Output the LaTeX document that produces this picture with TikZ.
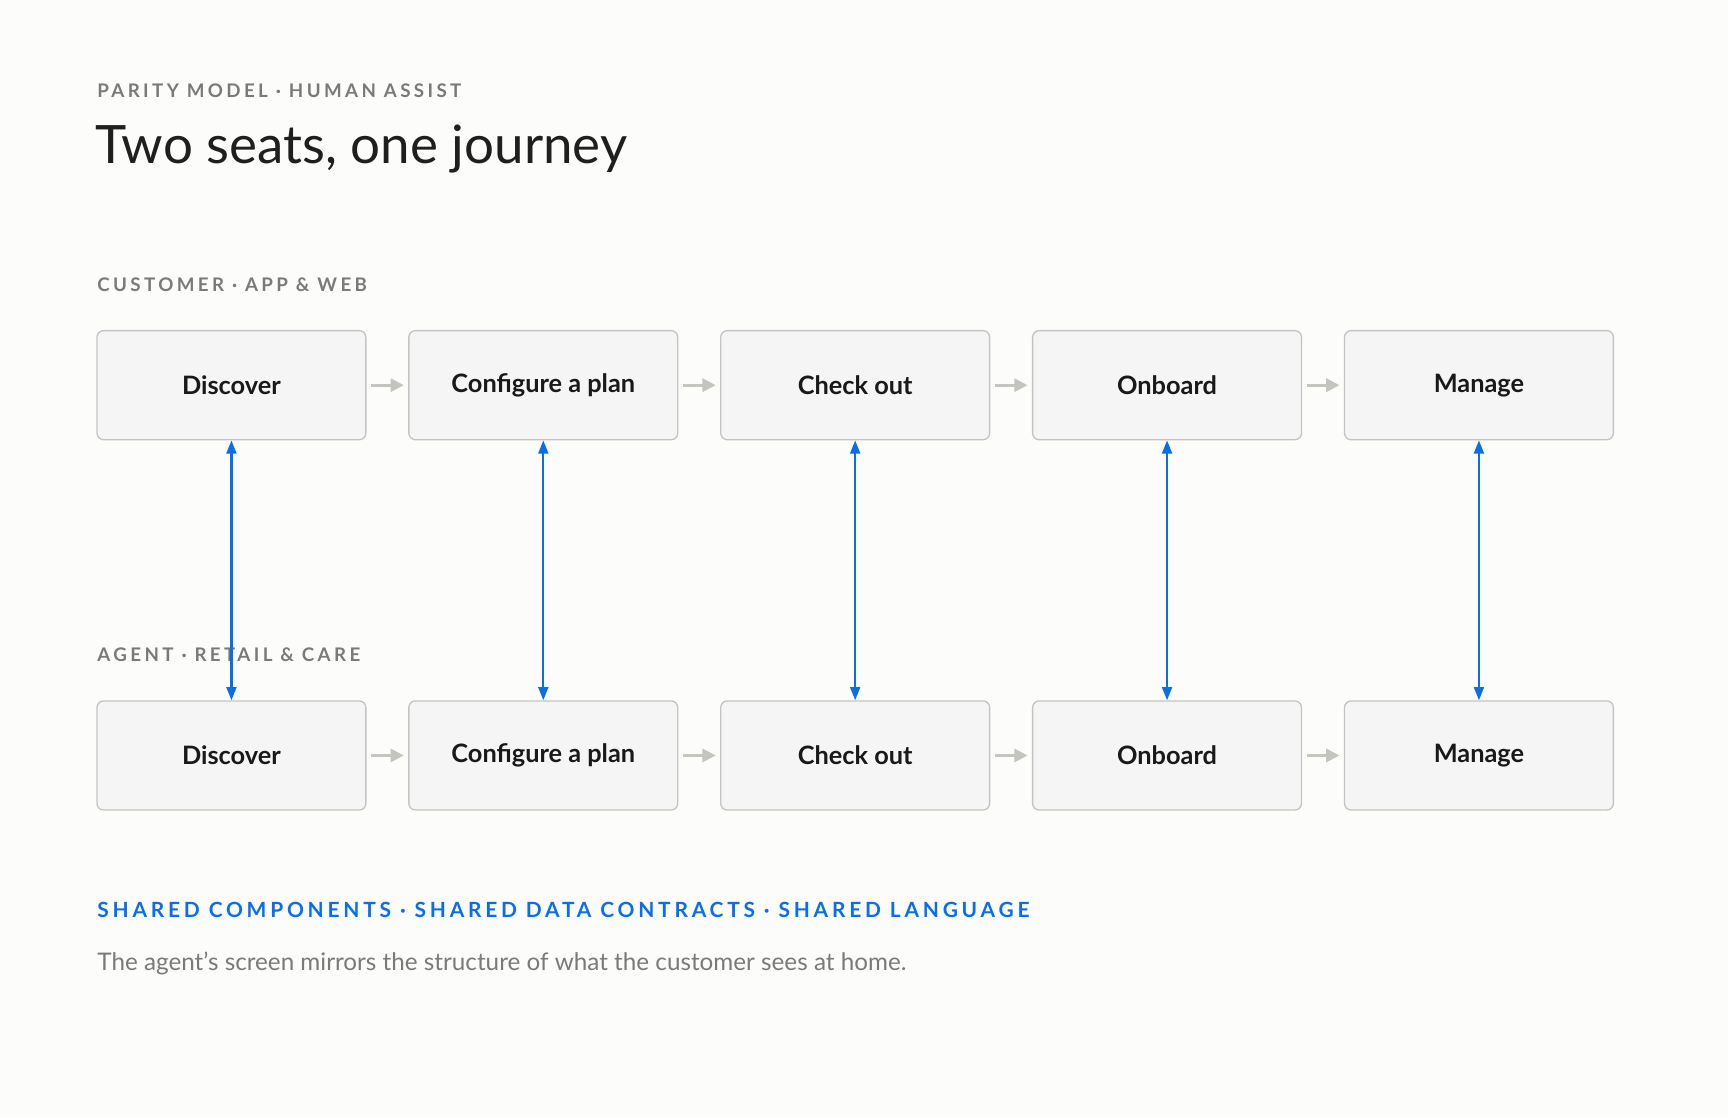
\documentclass[tikz,border=0pt]{standalone}
\usepackage{fontspec}
\setmainfont{Lato}
\usetikzlibrary{arrows.meta}
\definecolor{bg}{HTML}{FCFCFA}
\definecolor{boxfill}{HTML}{F5F5F6}
\definecolor{boxdraw}{HTML}{C4C4C4}
\definecolor{lbl}{HTML}{7A7A7A}
\definecolor{blueac}{HTML}{0A6EEB}
\definecolor{garrow}{HTML}{C4C4C0}
\tikzset{x=0.5pt,y=-0.5pt,
 stepbox/.style={draw=boxdraw,fill=boxfill,line width=0.6pt,rounded corners=3pt,minimum width=122pt,minimum height=49.5pt,font=\fontsize{11.5}{13}\selectfont\bfseries,text=black!90},
 seclbl/.style={anchor=west,inner sep=0,text=lbl,font=\fontsize{8.5}{10}\selectfont\bfseries\addfontfeature{LetterSpace=18}},
 flow/.style={garrow,line width=1.2pt,-{Triangle[length=6pt,width=6pt]}},
 link/.style={blueac,line width=1pt,{Triangle[length=6pt,width=4.5pt]}-{Triangle[length=6pt,width=4.5pt]}}}
\begin{document}
\begin{tikzpicture}
\fill[bg] (0,0) rectangle (1568,1014);
\useasboundingbox (0,0) rectangle (1568,1014);
\node[seclbl] (h) at (88,82) {PARITY MODEL · HUMAN ASSIST};
\node[anchor=west,inner sep=0,font=\fontsize{24}{28}\selectfont,text=black!88] (t) at (86,135) {Two seats, one journey};
\node[seclbl] (c) at (88,258) {CUSTOMER · APP \& WEB};
\node[seclbl] (a) at (88,594) {AGENT · RETAIL \& CARE};
\foreach \i/\x/\t in {1/210/Discover,2/493/Configure a plan,3/776/Check out,4/1059/Onboard,5/1342/Manage}{
 \node[stepbox] (u\i) at (\x,349.5) {\t};
 \node[stepbox] (d\i) at (\x,685.5) {\t};
 \draw[link] (u\i.south) -- (d\i.north);
}
\foreach \i/\j in {1/2,2/3,3/4,4/5}{
 \draw[flow] ([xshift=2pt]u\i.east) -- ([xshift=-2pt]u\j.west);
 \draw[flow] ([xshift=2pt]d\i.east) -- ([xshift=-2pt]d\j.west);
}
\node[seclbl,text=blueac,font=\fontsize{9.5}{11}\selectfont\bfseries\addfontfeature{LetterSpace=18}] (s) at (88,826) {SHARED COMPONENTS · SHARED DATA CONTRACTS · SHARED LANGUAGE};
\node[anchor=west,inner sep=0,text=lbl,font=\fontsize{11}{13}\selectfont] (p) at (88,874) {The agent’s screen mirrors the structure of what the customer sees at home.};
\end{tikzpicture}
\end{document}
